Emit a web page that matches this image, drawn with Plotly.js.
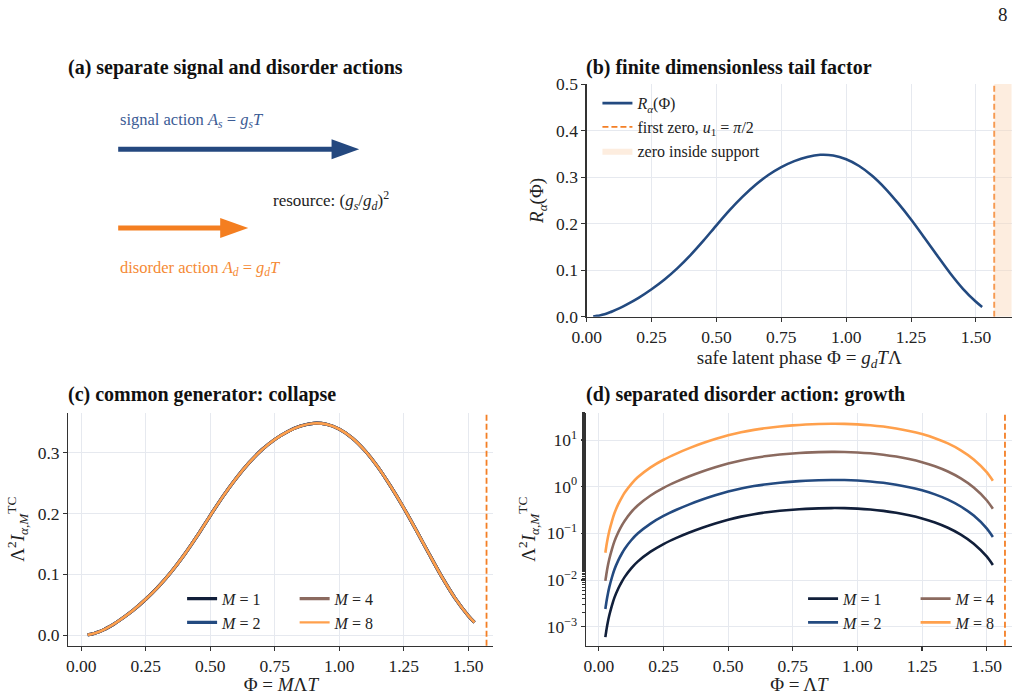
<!DOCTYPE html>
<html>
<head>
<meta charset="utf-8">
<script src="https://cdn.plot.ly/plotly-3.0.1.min.js"></script>
<style>html,body{margin:0;padding:0;background:#fff;}#chart{width:1023px;height:695px;}</style>
</head>
<body>
<div id="chart"></div>
<script>
// ---- data ----
const phi = [0.025, 0.03, 0.035, 0.04, 0.05, 0.06, 0.075, 0.09, 0.10, 0.125, 0.15, 0.20, 0.25, 0.30, 0.35, 0.40, 0.45, 0.50, 0.55, 0.60, 0.65, 0.70, 0.75, 0.80, 0.85, 0.90, 0.95, 1.00, 1.05, 1.10, 1.15, 1.20, 1.25, 1.30, 1.35, 1.40, 1.45, 1.50, 1.524];
const tailR = [0.0006, 0.00091, 0.00129, 0.00174, 0.0028, 0.0042, 0.0066, 0.0095, 0.0117, 0.0178, 0.0248, 0.0405, 0.059, 0.080, 0.1045, 0.1325, 0.1635, 0.1965, 0.2285, 0.2575, 0.283, 0.3045, 0.3215, 0.3345, 0.3435, 0.348, 0.3465, 0.3385, 0.324, 0.303, 0.276, 0.244, 0.209, 0.171, 0.132, 0.094, 0.060, 0.032, 0.021];
// panel (d): separated disorder action, one series per M
const growthM1 = [0.0006, 0.00091, 0.00129, 0.00174, 0.0028, 0.0042, 0.0066, 0.0095, 0.0117, 0.0178, 0.0248, 0.0405, 0.059, 0.080, 0.1045, 0.1325, 0.1635, 0.1965, 0.2285, 0.2575, 0.283, 0.3045, 0.3215, 0.3345, 0.3435, 0.348, 0.3465, 0.3385, 0.324, 0.303, 0.276, 0.244, 0.209, 0.171, 0.132, 0.094, 0.060, 0.032, 0.021];
const growthM2 = [0.0024, 0.00364, 0.00516, 0.00696, 0.0112, 0.0168, 0.0264, 0.038, 0.0468, 0.0712, 0.0992, 0.162, 0.236, 0.320, 0.418, 0.530, 0.654, 0.786, 0.914, 1.030, 1.132, 1.218, 1.286, 1.338, 1.374, 1.392, 1.386, 1.354, 1.296, 1.212, 1.104, 0.976, 0.836, 0.684, 0.528, 0.376, 0.240, 0.128, 0.084];
const growthM4 = [0.0096, 0.01456, 0.02064, 0.02784, 0.0448, 0.0672, 0.1056, 0.152, 0.1872, 0.2848, 0.3968, 0.648, 0.944, 1.280, 1.672, 2.120, 2.616, 3.144, 3.656, 4.120, 4.528, 4.872, 5.144, 5.352, 5.496, 5.568, 5.544, 5.416, 5.184, 4.848, 4.416, 3.904, 3.344, 2.736, 2.112, 1.504, 0.960, 0.512, 0.336];
const growthM8 = [0.0384, 0.05824, 0.08256, 0.11136, 0.1792, 0.2688, 0.4224, 0.608, 0.7488, 1.1392, 1.5872, 2.592, 3.776, 5.120, 6.688, 8.480, 10.464, 12.576, 14.624, 16.480, 18.112, 19.488, 20.576, 21.408, 21.984, 22.272, 22.176, 21.664, 20.736, 19.392, 17.664, 15.616, 13.376, 10.944, 8.448, 6.016, 3.840, 2.048, 1.344];
const mLabels = ['<i>M</i> = 1', '<i>M</i> = 2', '<i>M</i> = 4', '<i>M</i> = 8'];
const firstZero = Math.PI / 2;
const xTickVals = [0, 0.25, 0.5, 0.75, 1.0, 1.25, 1.5];
const xTickText = ['0.00', '0.25', '0.50', '0.75', '1.00', '1.25', '1.50'];
const yTickB = [0, 0.1, 0.2, 0.3, 0.4, 0.5];
const yTickBText = ['0.0', '0.1', '0.2', '0.3', '0.4', '0.5'];
const yTickC = [0, 0.1, 0.2, 0.3];
const yTickCText = ['0.0', '0.1', '0.2', '0.3'];
const yTickD = [0.001, 0.01, 0.1, 1, 10];
const yTickDText = ['10<sup>−3</sup>', '10<sup>−2</sup>', '10<sup>−1</sup>', '10<sup>0</sup>', '10<sup>1</sup>'];

// ---- styles ----
const FONT = 'Liberation Serif, Times New Roman, serif';
const C = {
  m1: '#111f3a', m2: '#234a80', m4: '#8b6a5f', m8: '#ffa04c',
  curve: '#234a80', zero: '#f47f25', shade: 'rgba(250,214,184,0.45)',
  grid: '#e6e9ef', axis: '#333333'
};
const mColors = [C.m1, C.m2, C.m4, C.m8];
const growth = [growthM1, growthM2, growthM4, growthM8];

const traces = [];
// (b)
traces.push({x: phi, y: tailR, xaxis: 'x', yaxis: 'y', mode: 'lines', name: '<i>R<sub>α</sub></i>(Φ)',
  line: {color: C.curve, width: 2.6, shape: 'spline', smoothing: 0.8}, legend: 'legend', hoverinfo: 'skip'});
traces.push({x: [firstZero, firstZero], y: [0, 0.5], xaxis: 'x', yaxis: 'y', mode: 'lines',
  name: 'first zero, <i>u</i><sub>1</sub> = <i>π</i>/2', line: {color: C.zero, width: 1.8, dash: '6px,3px'}, legend: 'legend', hoverinfo: 'skip'});
traces.push({x: [firstZero, 1.638, 1.638, firstZero], y: [0, 0, 0.5, 0.5], xaxis: 'x', yaxis: 'y', mode: 'lines',
  fill: 'toself', fillcolor: C.shade, line: {width: 0, color: C.shade}, name: 'zero inside support', legend: 'legend', hoverinfo: 'skip'});
// (c) collapse: all M on the same curve
const cWidths = [3.2, 3.2, 3.2, 2.4];
for (let i = 0; i < 4; i++) {
  traces.push({x: phi, y: tailR, xaxis: 'x2', yaxis: 'y2', mode: 'lines', name: mLabels[i],
    line: {color: mColors[i], width: cWidths[i], shape: 'spline', smoothing: 0.8}, legend: i < 2 ? 'legend2' : 'legend3', hoverinfo: 'skip'});
}
// (d) growth
for (let i = 0; i < 4; i++) {
  traces.push({x: phi, y: growth[i], xaxis: 'x3', yaxis: 'y3', mode: 'lines', name: mLabels[i],
    line: {color: mColors[i], width: 2.6, shape: 'spline', smoothing: 0.8}, legend: i < 2 ? 'legend4' : 'legend5', hoverinfo: 'skip'});
}

function axBase(extra) {
  return Object.assign({
    showline: true, linecolor: C.axis, linewidth: 1.3, mirror: false,
    ticks: 'outside', ticklen: 4, tickwidth: 1.1, tickcolor: C.axis,
    showgrid: true, gridcolor: C.grid, gridwidth: 1, zeroline: false,
    tickfont: {family: FONT, size: 17.5, color: '#222'}, fixedrange: true, automargin: false
  }, extra);
}
const titleFont = {family: FONT, size: 19, color: '#222'};

const legendBase = {font: {family: FONT, size: 16, color: '#222'}, bgcolor: 'rgba(255,255,255,0)',
  borderwidth: 0, xanchor: 'left', yanchor: 'top', tracegroupgap: 0, itemwidth: 30};

const panelTitleFont = {family: FONT, size: 20, color: '#111'};

const layout = {
  width: 1023, height: 695, margin: {l: 0, r: 0, t: 0, b: 0},
  paper_bgcolor: '#fff', plot_bgcolor: '#fff', showlegend: true,
  font: {family: FONT, color: '#222'},
  xaxis: axBase({domain: [0.5735, 0.989], range: [0, 1.638], anchor: 'y', tickvals: xTickVals, ticktext: xTickText,
    title: {text: 'safe latent phase Φ = <i>g<sub>d</sub>T</i>Λ', font: titleFont, standoff: 3}}),
  yaxis: axBase({domain: [0.5443, 0.879], range: [0, 0.5], anchor: 'x', tickvals: yTickB, ticktext: yTickBText,
    title: {text: '<i>R<sub>α</sub></i>(Φ)', font: titleFont, standoff: 7}}),
  xaxis2: axBase({domain: [0.0668, 0.4822], range: [-0.05, 1.597], anchor: 'y2', tickvals: xTickVals, ticktext: xTickText,
    title: {text: 'Φ = <i>M</i>Λ<i>T</i>', font: titleFont, standoff: 1}}),
  yaxis2: axBase({domain: [0.0709, 0.4062], range: [-0.0174, 0.3655], anchor: 'x2', tickvals: yTickC, ticktext: yTickCText,
    title: {text: 'Λ<sup>2</sup><i>I</i><sub><i>α,M</i></sub><sup>TC</sup>', font: titleFont, standoff: 8}}),
  xaxis3: axBase({domain: [0.5728, 0.989], range: [-0.05, 1.597], anchor: 'y3', tickvals: xTickVals, ticktext: xTickText,
    title: {text: 'Φ = Λ<i>T</i>', font: titleFont, standoff: 1}}),
  yaxis3: axBase({domain: [0.0709, 0.4062], type: 'log', range: [-3.407, 1.585], anchor: 'x3', tickvals: yTickD, ticktext: yTickDText,
    minor: {ticks: 'outside', ticklen: 2.5, tickcolor: C.axis, showgrid: false},
    title: {text: 'Λ<sup>2</sup><i>I</i><sub><i>α,M</i></sub><sup>TC</sup>', font: titleFont, standoff: 6}}),
  xaxis4: {domain: [0.0665, 0.482], range: [0, 1], anchor: 'y4', visible: false, fixedrange: true},
  yaxis4: {domain: [0.5443, 0.879], range: [0, 1], anchor: 'x4', visible: false, fixedrange: true},
  legend: Object.assign({}, legendBase, {x: 0.584, y: 0.876}),
  legend2: Object.assign({}, legendBase, {x: 0.178, y: 0.163}),
  legend3: Object.assign({}, legendBase, {x: 0.288, y: 0.163}),
  legend4: Object.assign({}, legendBase, {x: 0.785, y: 0.163}),
  legend5: Object.assign({}, legendBase, {x: 0.895, y: 0.163}),
  shapes: [
    // dashed first-zero lines in (c) and (d)
    {type: 'line', xref: 'x2', yref: 'y2 domain', x0: firstZero, x1: firstZero, y0: 0, y1: 1,
      line: {color: C.zero, width: 1.8, dash: '6px,3px'}},
    {type: 'line', xref: 'x3', yref: 'y3 domain', x0: firstZero, x1: firstZero, y0: 0, y1: 1,
      line: {color: C.zero, width: 1.8, dash: '6px,3px'}},
    // schematic arrows in (a)
    {type: 'line', xref: 'x4', yref: 'y4', x0: 0.118, x1: 0.625, y0: 0.72, y1: 0.72, line: {color: '#24487f', width: 5}},
    {type: 'path', xref: 'x4', yref: 'y4', path: 'M 0.62,0.763 L 0.685,0.72 L 0.62,0.677 Z', fillcolor: '#24487f', line: {width: 0}},
    {type: 'line', xref: 'x4', yref: 'y4', x0: 0.118, x1: 0.362, y0: 0.381, y1: 0.381, line: {color: '#f47e20', width: 5}},
    {type: 'path', xref: 'x4', yref: 'y4', path: 'M 0.358,0.424 L 0.424,0.381 L 0.358,0.338 Z', fillcolor: '#f47e20', line: {width: 0}}
  ],
  annotations: [
    {xref: 'paper', yref: 'paper', x: 1003 / 1023, y: 1 - 15 / 695, text: '8', showarrow: false,
      xanchor: 'center', yanchor: 'middle', font: {family: FONT, size: 19, color: '#222'}},
    {xref: 'paper', yref: 'paper', x: 66 / 1023, y: 1 - 67 / 695, text: '<b>(a) separate signal and disorder actions</b>',
      showarrow: false, xanchor: 'left', yanchor: 'middle', font: panelTitleFont},
    {xref: 'paper', yref: 'paper', x: 584 / 1023, y: 1 - 67 / 695, text: '<b>(b) finite dimensionless tail factor</b>',
      showarrow: false, xanchor: 'left', yanchor: 'middle', font: panelTitleFont},
    {xref: 'paper', yref: 'paper', x: 66 / 1023, y: 1 - 394 / 695, text: '<b>(c) common generator: collapse</b>',
      showarrow: false, xanchor: 'left', yanchor: 'middle', font: panelTitleFont},
    {xref: 'paper', yref: 'paper', x: 584 / 1023, y: 1 - 394 / 695, text: '<b>(d) separated disorder action: growth</b>',
      showarrow: false, xanchor: 'left', yanchor: 'middle', font: panelTitleFont},
    {xref: 'x4', yref: 'y4', x: 0.118, y: 0.845, text: 'signal action <i>A<sub>s</sub></i> = <i>g<sub>s</sub>T</i>',
      showarrow: false, xanchor: 'left', yanchor: 'middle', font: {family: FONT, size: 16.5, color: '#3b5b95'}},
    {xref: 'x4', yref: 'y4', x: 0.477, y: 0.5, text: 'resource: (<i>g<sub>s</sub></i>/<i>g<sub>d</sub></i>)<sup>2</sup>',
      showarrow: false, xanchor: 'left', yanchor: 'middle', font: {family: FONT, size: 17, color: '#222'}},
    {xref: 'x4', yref: 'y4', x: 0.118, y: 0.21, text: 'disorder action <i>A<sub>d</sub></i> = <i>g<sub>d</sub>T</i>',
      showarrow: false, xanchor: 'left', yanchor: 'middle', font: {family: FONT, size: 16.5, color: '#f58a35'}}
  ]
};

Plotly.newPlot('chart', traces, layout, {displayModeBar: false, staticPlot: true});
</script>
</body>
</html>
